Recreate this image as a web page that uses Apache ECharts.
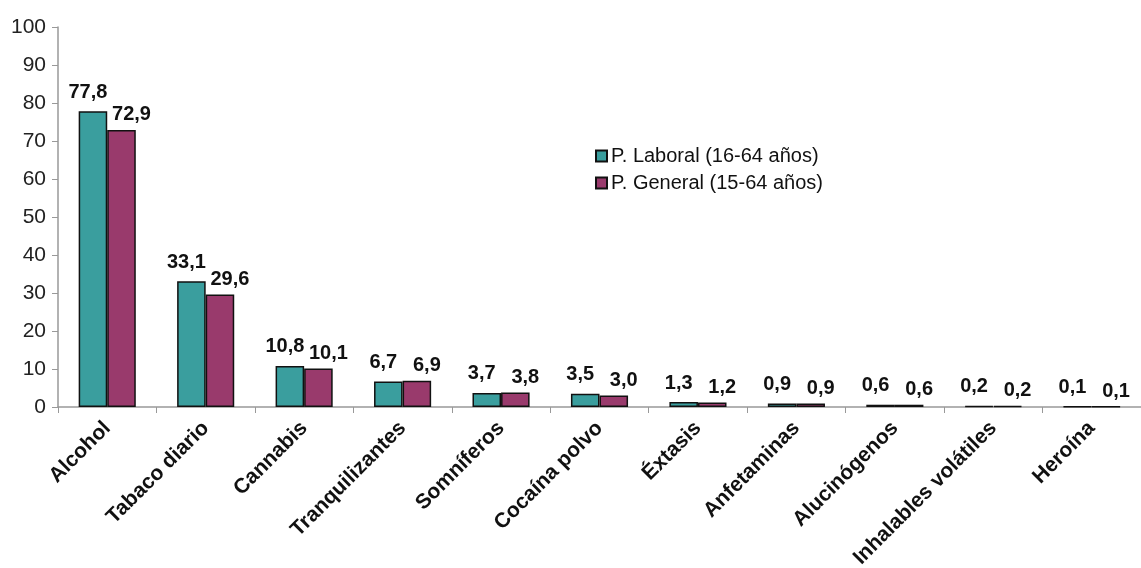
<!DOCTYPE html>
<html><head><meta charset="utf-8">
<script src="https://cdn.jsdelivr.net/npm/echarts@6/dist/echarts.min.js"></script>
<style>html,body{margin:0;padding:0;background:#fff}#c{width:1141px;height:568px}</style>
</head><body><div id="c"></div>
<script>
const categories = ['Alcohol','Tabaco diario','Cannabis','Tranquilizantes','Somníferos','Cocaína polvo','Éxtasis','Anfetaminas','Alucinógenos','Inhalables volátiles','Heroína'];
const laboral = [77.8,33.1,10.8,6.7,3.7,3.5,1.3,0.9,0.6,0.2,0.1];
const general = [72.9,29.6,10.1,6.9,3.8,3.0,1.2,0.9,0.6,0.2,0.1];
const seriesNames = ['P. Laboral (16-64 años)','P. General (15-64 años)'];
const yTicks = {min:0,max:100,interval:10};

const fmt = p => p.value.toFixed(1).replace('.', ',');
const font = 'Liberation Sans, Arial, sans-serif';
const chart = echarts.init(document.getElementById('c'));
chart.setOption({
  animation:false,
  grid:{left:58,right:0,top:27,bottom:161,containLabel:false,outerBoundsMode:'none'},
  legend:{
    orient:'vertical', left:590, top:141, itemWidth:11, itemHeight:11, itemGap:7,
    textStyle:{fontFamily:font,fontSize:20,color:'#111',padding:[0,0,0,-1]},
    data:seriesNames.map(n=>({name:n,icon:'rect'}))
  },
  xAxis:{
    type:'category', data:categories,
    axisLine:{lineStyle:{color:'#999',width:1.5}},
    axisTick:{show:true,length:6,alignWithLabel:false,lineStyle:{color:'#999'}},
    axisLabel:{rotate:45,interval:0,margin:18,fontFamily:font,fontSize:21,fontWeight:'bold',color:'#111'}
  },
  yAxis:{
    type:'value', min:yTicks.min, max:yTicks.max, interval:yTicks.interval,
    splitLine:{show:false},
    axisLine:{show:true,lineStyle:{color:'#999',width:1.5}},
    axisTick:{show:true,length:6,lineStyle:{color:'#999'}},
    axisLabel:{fontFamily:font,fontSize:21,color:'#222',margin:12}
  },
  series:[
    {name:seriesNames[0],type:'bar',data:laboral,barWidth:'29%',barGap:'0%',
     itemStyle:{color:'#3a9e9e',borderColor:'#111',borderWidth:1.5},
     label:{show:true,position:'top',distance:9,offset:[-5,0],formatter:fmt,fontFamily:font,fontSize:20,fontWeight:'bold',color:'#111'}},
    {name:seriesNames[1],type:'bar',data:general,barWidth:'29%',barGap:'0%',
     itemStyle:{color:'#993a6c',borderColor:'#111',borderWidth:1.5},
     label:{show:true,position:'top',distance:5,offset:[10,0],formatter:fmt,fontFamily:font,fontSize:20,fontWeight:'bold',color:'#111'}}
  ]
});
</script></body></html>
